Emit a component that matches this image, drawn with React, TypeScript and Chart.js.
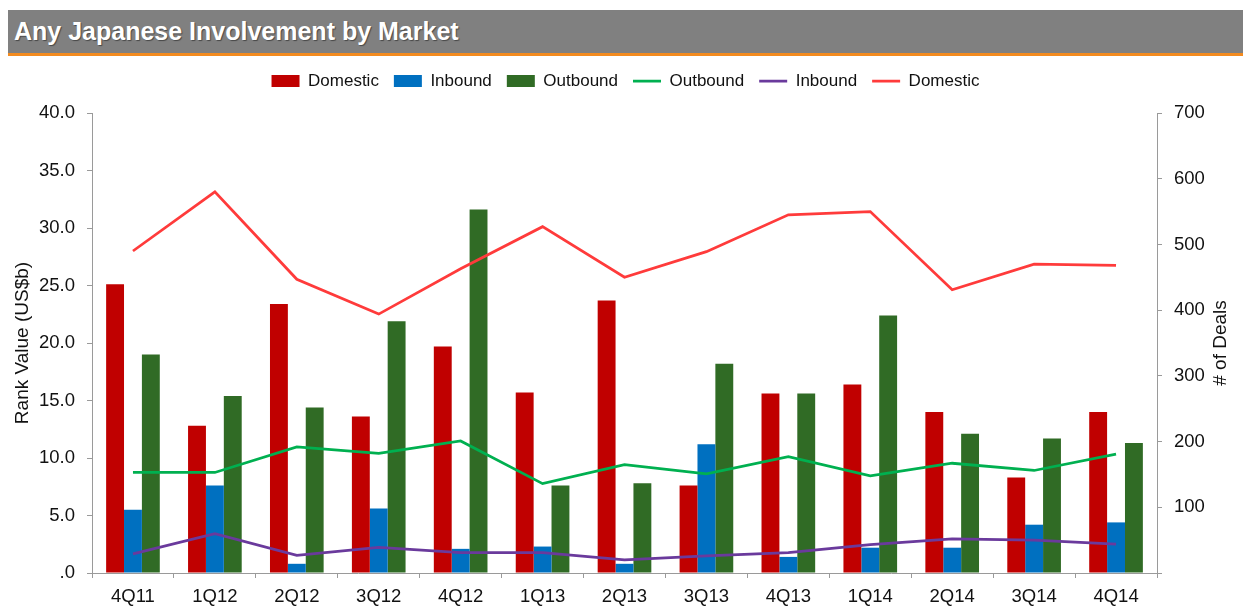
import React, { useEffect, useRef } from "react";
import { Chart, registerables } from "chart.js";

Chart.register(...registerables);

const categories = ["4Q11", "1Q12", "2Q12", "3Q12", "4Q12", "1Q13", "2Q13", "3Q13", "4Q13", "1Q14", "2Q14", "3Q14", "4Q14"];

// Rank value (US$b) - bars, left axis
const domesticValue = [25.1, 12.8, 23.4, 13.6, 19.7, 15.7, 23.7, 7.6, 15.6, 16.4, 14.0, 8.3, 14.0];
const inboundValue = [5.5, 7.6, 0.8, 5.6, 2.1, 2.3, 0.8, 11.2, 1.4, 2.2, 2.2, 4.2, 4.4];
const outboundValue = [19.0, 15.4, 14.4, 21.9, 31.6, 7.6, 7.8, 18.2, 15.6, 22.4, 12.1, 11.7, 11.3];

// # of deals - lines, right axis
const outboundDeals = [153, 153, 192, 182, 201, 136, 165, 151, 177, 148, 167, 156, 181];
const inboundDeals = [29, 60, 27, 39, 31, 31, 20, 26, 31, 43, 52, 50, 44];
const domesticDeals = [490, 580, 447, 394, 463, 527, 450, 489, 545, 550, 431, 470, 468];

const leftTicks = { min: 0, max: 40, step: 5 };
const rightTicks = { min: 0, max: 700, step: 100 };

const FONT = "'Liberation Sans', Arial, Helvetica, sans-serif";
const AXIS_GRAY = "#9a9a9a";

const axisTitles = {
  id: "axisTitles",
  afterDraw(chart: any) {
    const { ctx, chartArea } = chart;
    const cy = (chartArea.top + chartArea.bottom) / 2;
    ctx.save();
    ctx.font = `19px ${FONT}`;
    ctx.fillStyle = "#111";
    ctx.textAlign = "center";
    ctx.textBaseline = "middle";
    ctx.translate(15, cy);
    ctx.rotate(-Math.PI / 2);
    ctx.fillText("Rank Value (US$b)", 0, 0);
    ctx.restore();
    ctx.save();
    ctx.font = `19px ${FONT}`;
    ctx.fillStyle = "#111";
    ctx.textAlign = "center";
    ctx.textBaseline = "middle";
    ctx.translate(chartArea.right + 64, cy);
    ctx.rotate(-Math.PI / 2);
    ctx.fillText("# of Deals", 0, 0);
    ctx.restore();
  },
};

const legendGap = {
  id: "legendGap",
  beforeInit(chart: any) {
    if (!chart.legend) return;
    const orig = chart.legend.fit;
    chart.legend.fit = function () {
      orig.bind(chart.legend)();
      this.height += 13.5;
    };
  },
};

export default function App() {
  const ref = useRef<HTMLCanvasElement | null>(null);

  useEffect(() => {
    if (!ref.current) return;
    const chart = new Chart(ref.current, {
      type: "bar",
      data: {
        labels: categories,
        datasets: [
          { type: "bar", label: "Domestic", data: domesticValue, backgroundColor: "#C00000", yAxisID: "y", order: 1, categoryPercentage: 0.655, barPercentage: 1 },
          { type: "bar", label: "Inbound", data: inboundValue, backgroundColor: "#0070C0", yAxisID: "y", order: 1, categoryPercentage: 0.655, barPercentage: 1 },
          { type: "bar", label: "Outbound", data: outboundValue, backgroundColor: "#306B25", yAxisID: "y", order: 1, categoryPercentage: 0.655, barPercentage: 1 },
          { type: "line", label: "Outbound", data: outboundDeals, borderColor: "#00B050", backgroundColor: "#00B050", borderWidth: 2.75, pointRadius: 0, tension: 0, yAxisID: "y1", order: 0, pointStyle: "line" },
          { type: "line", label: "Inbound", data: inboundDeals, borderColor: "#6A3A9C", backgroundColor: "#6A3A9C", borderWidth: 2.75, pointRadius: 0, tension: 0, yAxisID: "y1", order: 0, pointStyle: "line" },
          { type: "line", label: "Domestic", data: domesticDeals, borderColor: "#FF3B3B", backgroundColor: "#FF3B3B", borderWidth: 2.75, pointRadius: 0, tension: 0, yAxisID: "y1", order: 0, pointStyle: "line" },
        ] as any,
      },
      options: {
        responsive: false,
        animation: false,
        layout: { padding: { top: 1.5, left: 0, right: 0, bottom: 0 } },
        plugins: {
          tooltip: { enabled: false },
          title: { display: false },
          legend: {
            position: "top",
            align: "center",
            labels: {
              usePointStyle: true,
              pointStyleWidth: 28,
              boxHeight: 12,
              padding: 15,
              color: "#111",
              font: { size: 17, family: FONT },
              sort: (a: any, b: any) => a.datasetIndex - b.datasetIndex,
              generateLabels: (chart: any) => {
                return chart.data.datasets.map((ds: any, i: number) => ({
                  text: ds.label,
                  datasetIndex: i,
                  fillStyle: ds.type === "bar" ? ds.backgroundColor : ds.borderColor,
                  strokeStyle: ds.type === "bar" ? ds.backgroundColor : ds.borderColor,
                  lineWidth: ds.type === "bar" ? 0 : 2.75,
                  pointStyle: ds.type === "bar" ? "rect" : "line",
                  hidden: false,
                  fontColor: "#111",
                }));
              },
            },
          },
        },
        scales: {
          x: {
            offset: true,
            grid: { display: true, drawOnChartArea: false, drawTicks: true, tickLength: 5, color: AXIS_GRAY, offset: true },
            border: { display: true, color: AXIS_GRAY, width: 1 },
            ticks: { color: "#111", font: { size: 18.5, family: FONT }, padding: 8, maxRotation: 0, autoSkip: false },
            afterFit: (s: any) => { s.height = 36; },
          },
          y: {
            position: "left",
            min: leftTicks.min,
            max: leftTicks.max,
            grid: { display: true, drawOnChartArea: false, drawTicks: true, tickLength: 5, color: AXIS_GRAY },
            border: { display: true, color: AXIS_GRAY, width: 1 },
            ticks: {
              stepSize: leftTicks.step,
              color: "#111",
              font: { size: 18.5, family: FONT },
              padding: 12,
              callback: (v: any) => (Number(v) === 0 ? ".0" : Number(v).toFixed(1)),
            },
            afterFit: (s: any) => { s.width = 84; },
          },
          y1: {
            position: "right",
            min: rightTicks.min,
            max: rightTicks.max,
            grid: { display: true, drawOnChartArea: false, drawTicks: true, tickLength: 5, color: AXIS_GRAY },
            border: { display: true, color: AXIS_GRAY, width: 1 },
            ticks: {
              stepSize: rightTicks.step,
              color: "#111",
              font: { size: 18.5, family: FONT },
              padding: 12,
              callback: (v: any) => (Number(v) === 0 ? "" : String(v)),
            },
            afterFit: (s: any) => { s.width = 86; },
          },
        },
      } as any,
      plugins: [axisTitles, legendGap],
    });
    return () => chart.destroy();
  }, []);

  return (
    <div style={{ position: "absolute", left: 0, top: 0, width: 1243, height: 609, overflow: "hidden", background: "#fff" }}>
      <div
        style={{
          position: "absolute",
          left: 8,
          top: 10,
          width: 1235,
          height: 43,
          background: "#808080",
          borderBottom: "3px solid #F38B1F",
          color: "#fff",
          fontFamily: FONT,
          fontWeight: "bold",
          fontSize: 25,
          lineHeight: "43px",
          paddingLeft: 6,
          boxSizing: "content-box",
          textShadow: "1px 1px 1px rgba(0,0,0,0.45)",
          whiteSpace: "nowrap",
        }}
      >
        Any Japanese Involvement by Market
      </div>
      <div style={{ position: "absolute", left: 8, top: 56, width: 1235, height: 553 }}>
        <canvas ref={ref} width={1235} height={553} style={{ width: 1235, height: 553, display: "block" }} />
      </div>
    </div>
  );
}
